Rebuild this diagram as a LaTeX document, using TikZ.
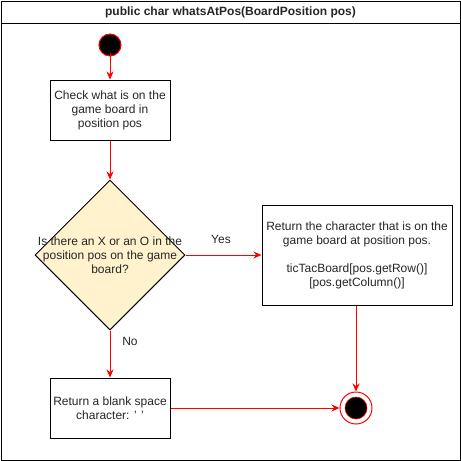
\documentclass[tikz,border=0pt]{standalone}
\usepackage{fontspec}
\setmainfont{Liberation Sans}
\usetikzlibrary{arrows.meta,shapes.geometric}
\definecolor{flowred}{HTML}{FF0000}
\definecolor{decfill}{HTML}{FFF2CC}
\tikzset{
  txt/.style={font=\fontsize{12}{14}\selectfont, align=center, inner sep=0pt, text=black!85},
  actbox/.style={draw=black, line width=1pt, fill=white, rectangle, inner sep=0pt},
  flow/.style={draw=flowred, line width=1pt, -{Stealth[length=8pt,width=7pt]}, color=flowred},
  lbl/.style={font=\fontsize{12}{14}\selectfont, inner sep=0pt, text=black!85},
}
\begin{document}
\begin{tikzpicture}[x=1pt,y=-1pt]
\useasboundingbox (0,0) rectangle (461,461);
% frame
\draw[line width=1pt] (1,1) rectangle (460,460);
\draw[line width=1pt] (1,23) -- (460,23);
\node[txt, font=\fontsize{12}{14}\selectfont\bfseries] (title) at (230.5,12.5) {public char whatsAtPos(BoardPosition pos)};
% start
\node[circle, draw=flowred, fill=black, line width=1pt, minimum size=22pt, inner sep=0pt] (start) at (110,45) {};
% box1
\node[actbox, minimum width=120pt, minimum height=60pt] (b1) at (110,110) {};
\node[txt] (b1t) at (b1) {Check what is on the\\game board in\\position pos};
% decision
\node[diamond, draw=black, fill=decfill, line width=1pt, minimum width=150pt, minimum height=150pt, inner sep=0pt] (dec) at (110,255) {};
\node[txt] (dect) at (dec) {Is there an X or an O in the\\position pos on the game\\board?};
% box2
\node[actbox, minimum width=190pt, minimum height=100pt] (b2) at (357,255) {};
\node[txt] (b2t) at (b2) {Return the character that is on the\\game board at position pos.\\[14pt]ticTacBoard{[}pos.getRow(){]}\\{[}pos.getColumn(){]}};
% box3
\node[actbox, minimum width=120pt, minimum height=60pt] (b3) at (110,408) {};
\node[txt] (b3t) at (b3) {Return a blank space\\character: \symbol{39} \symbol{39}};
% end
\node[circle, draw=flowred, fill=white, line width=1pt, minimum size=32pt, inner sep=0pt] (end) at (356,408) {};
\node[circle, draw=flowred, fill=black, line width=0.6pt, minimum size=22pt, inner sep=0pt] (endin) at (end) {};
% connectors
\draw[flow] ([yshift=4pt]start.south) -- (b1.north);
\draw[flow] (b1.south) -- (dec.north);
\draw[flow] (dec.east) -- (b2.west);
\draw[flow] (dec.south) -- (b3.north);
\draw[flow] (b2.south -| end.north) -- (end.north);
\draw[flow] (b3.east) -- (end.west);
% labels
\node[lbl] (yes) at (221,239) {Yes};
\node[lbl] (no) at (130,341) {No};
\end{tikzpicture}
\end{document}
